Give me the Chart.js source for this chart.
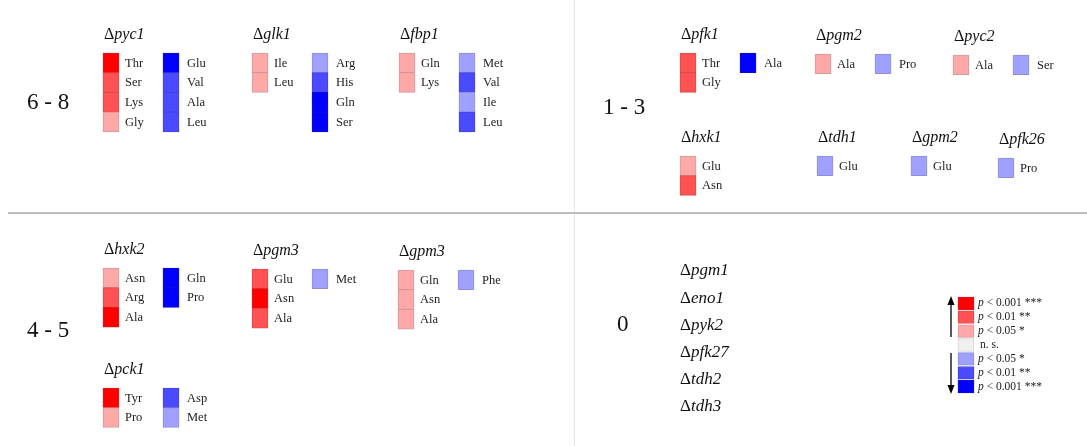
<!DOCTYPE html>
<html>
<head>
<meta charset="utf-8">
<script src="https://cdn.jsdelivr.net/npm/chart.js@4/dist/chart.umd.min.js"></script>
<style>
  html, body { margin: 0; padding: 0; background: #fff; }
  canvas { display: block; }
</style>
</head>
<body>
<canvas id="fig" width="1087" height="446"></canvas>
<script>
// ---- data ----
const groupLabels = ['6 - 8', '1 - 3', '4 - 5', '0'];

const strains = ['pyc1', 'glk1', 'fbp1', 'pfk1', 'pgm2', 'pyc2', 'hxk1', 'tdh1', 'gpm2', 'pfk26', 'hxk2', 'pgm3', 'gpm3', 'pck1'];
const strainGroups = ['6 - 8', '6 - 8', '6 - 8', '1 - 3', '1 - 3', '1 - 3', '1 - 3', '1 - 3', '1 - 3', '1 - 3', '4 - 5', '4 - 5', '4 - 5', '4 - 5'];

// increased amino acids and their significance level (3 = p<0.001, 2 = p<0.01, 1 = p<0.05)
const upAcids = [
  ['Thr', 'Ser', 'Lys', 'Gly'], ['Ile', 'Leu'], ['Gln', 'Lys'],
  ['Thr', 'Gly'], ['Ala'], ['Ala'], ['Glu', 'Asn'], [], [], [],
  ['Asn', 'Arg', 'Ala'], ['Glu', 'Asn', 'Ala'], ['Gln', 'Asn', 'Ala'], ['Tyr', 'Pro']
];
const upLevels = [
  [3, 2, 2, 1], [1, 1], [1, 1],
  [2, 2], [1], [1], [1, 2], [], [], [],
  [1, 2, 3], [2, 3, 2], [1, 1, 1], [3, 1]
];
// decreased amino acids and their significance level
const downAcids = [
  ['Glu', 'Val', 'Ala', 'Leu'], ['Arg', 'His', 'Gln', 'Ser'], ['Met', 'Val', 'Ile', 'Leu'],
  ['Ala'], ['Pro'], ['Ser'], [], ['Glu'], ['Glu'], ['Pro'],
  ['Gln', 'Pro'], ['Met'], ['Phe'], ['Asp', 'Met']
];
const downLevels = [
  [3, 2, 2, 2], [1, 2, 3, 3], [1, 2, 1, 2],
  [3], [1], [1], [], [1], [1], [1],
  [3, 3], [1], [1], [2, 1]
];

const zeroStrains = ['pgm1', 'eno1', 'pyk2', 'pfk27', 'tdh2', 'tdh3'];

const legendLevels = [3, 2, 1, 0, -1, -2, -3];
const legendLabels = ['p < 0.001 ***', 'p < 0.01 **', 'p < 0.05 *', 'n. s.', 'p < 0.05 *', 'p < 0.01 **', 'p < 0.001 ***'];

// ---- layout & styles ----
const W = 1087, H = 446;
const CELL_W = 16, CELL_H = 19.7, COL_GAP = 60;
const SERIF = "'Liberation Serif', 'Times New Roman', serif";

const groupPos = { '6 - 8': [27, 102], '1 - 3': [603, 107], '4 - 5': [27, 330], '0': [617, 324] };
const panelPos = {
  pyc1: [103, 35], glk1: [252, 35], fbp1: [399, 35],
  pfk1: [680, 35], pgm2: [815, 36], pyc2: [953, 37],
  hxk1: [680, 138], tdh1: [817, 138], gpm2: [911, 138], pfk26: [998, 140],
  hxk2: [103, 250], pgm3: [252, 251], gpm3: [398, 252], pck1: [103, 370]
};
const zeroPos = [680, 271, 27.2];
const legendPos = [958, 297, 13.9, 12.6];

const levelColors = {
  3: '#ff0000', 2: '#ff5353', 1: '#ffa8a8', 0: '#f0f0f0',
  '-1': '#a0a0ff', '-2': '#4a4aff', '-3': '#0000ff'
};
const levelBorders = {
  3: '#e01818', 2: '#dc4c4c', 1: '#d49a9a', 0: '#d2d2d2',
  '-1': '#8e8edc', '-2': '#4444d6', '-3': '#0c0cd8'
};

// build cells for the bar dataset
const cells = [];
strains.forEach((s, i) => {
  const [ax, ay] = panelPos[s];
  const top = ay + 18;
  let col = ax;
  if (upAcids[i].length) {
    upAcids[i].forEach((aa, k) => {
      cells.push({ x: col + CELL_W / 2, y: [top + k * CELL_H, top + (k + 1) * CELL_H], level: upLevels[i][k], label: aa, dx: 22 });
    });
    col += COL_GAP;
  }
  downAcids[i].forEach((aa, k) => {
    cells.push({ x: col + CELL_W / 2, y: [top + k * CELL_H, top + (k + 1) * CELL_H], level: -downLevels[i][k], label: aa, dx: 22 + (upAcids[i].length ? 2 : 0) });
  });
});
legendLevels.forEach((lv, k) => {
  const t = legendPos[1] + k * legendPos[2];
  cells.push({ x: legendPos[0] + CELL_W / 2, y: [t, t + legendPos[3]], level: lv, legend: legendLabels[k] });
});

function drawGene(ctx, name, px, py, size) {
  ctx.font = size + 'px ' + SERIF;
  ctx.fillText('\u0394', px, py);
  const w = ctx.measureText('\u0394').width;
  ctx.font = 'italic ' + size + 'px ' + SERIF;
  ctx.fillText(name, px + w, py);
}

function drawArrow(ctx, px, y0, y1) {
  const dir = y1 > y0 ? 1 : -1;
  ctx.beginPath();
  ctx.moveTo(px, y0);
  ctx.lineTo(px, y1 - dir * 6);
  ctx.stroke();
  ctx.beginPath();
  ctx.moveTo(px, y1);
  ctx.lineTo(px - 3.5, y1 - dir * 9);
  ctx.lineTo(px + 3.5, y1 - dir * 9);
  ctx.closePath();
  ctx.fill();
}

const figurePlugin = {
  id: 'figureText',
  beforeDatasetsDraw(chart) {
    const { ctx, scales: { x, y } } = chart;
    ctx.save();
    ctx.strokeStyle = '#e6e6e6';
    ctx.lineWidth = 1;
    ctx.beginPath();
    ctx.moveTo(Math.round(x.getPixelForValue(574)) + 0.5, y.getPixelForValue(0));
    ctx.lineTo(Math.round(x.getPixelForValue(574)) + 0.5, y.getPixelForValue(H));
    ctx.stroke();
    ctx.strokeStyle = '#a8a8a8';
    ctx.lineWidth = 1.3;
    ctx.beginPath();
    ctx.moveTo(x.getPixelForValue(8), y.getPixelForValue(213));
    ctx.lineTo(x.getPixelForValue(W), y.getPixelForValue(213));
    ctx.stroke();
    ctx.restore();
  },
  afterDatasetsDraw(chart) {
    const { ctx, scales: { x, y } } = chart;
    ctx.save();
    ctx.textBaseline = 'middle';
    ctx.textAlign = 'left';
    ctx.fillStyle = '#111';

    // group labels
    ctx.font = '23px ' + SERIF;
    groupLabels.forEach(g => {
      const [gx, gy] = groupPos[g];
      ctx.fillText(g, x.getPixelForValue(gx), y.getPixelForValue(gy + 1));
    });

    // strain titles
    strains.forEach(s => {
      const [ax, ay] = panelPos[s];
      drawGene(ctx, s, x.getPixelForValue(ax + 1), y.getPixelForValue(ay), 16);
    });
    zeroStrains.forEach((s, k) => {
      drawGene(ctx, s, x.getPixelForValue(zeroPos[0]), y.getPixelForValue(zeroPos[1] + k * zeroPos[2]), 17);
    });

    // cell labels
    ctx.fillStyle = '#222';
    cells.forEach(c => {
      const cy = y.getPixelForValue((c.y[0] + c.y[1]) / 2);
      if (c.label) {
        ctx.font = '12.5px ' + SERIF;
        ctx.fillText(c.label, x.getPixelForValue(c.x - CELL_W / 2 + c.dx), cy + 0.5);
      } else if (c.legend) {
        const lx = x.getPixelForValue(c.x + CELL_W / 2 + 4);
        if (c.legend.startsWith('p ')) {
          ctx.font = 'italic 11.5px ' + SERIF;
          ctx.fillText('p', lx, cy);
          const w = ctx.measureText('p').width;
          ctx.font = '11.5px ' + SERIF;
          ctx.fillText(c.legend.slice(1), lx + w, cy);
        } else {
          ctx.font = '11.5px ' + SERIF;
          ctx.fillText(c.legend, lx + 2, cy);
        }
      }
    });

    // legend arrows
    ctx.strokeStyle = '#000';
    ctx.fillStyle = '#000';
    ctx.lineWidth = 1.3;
    const ax = x.getPixelForValue(951);
    drawArrow(ctx, ax, y.getPixelForValue(337), y.getPixelForValue(296));
    drawArrow(ctx, ax, y.getPixelForValue(353), y.getPixelForValue(394));
    ctx.restore();
  }
};

new Chart(document.getElementById('fig'), {
  type: 'bar',
  data: {
    datasets: [{
      label: 'cells',
      data: cells,
      backgroundColor: c => levelColors[c.raw.level],
      borderColor: c => levelBorders[c.raw.level],
      borderWidth: 1,
      borderSkipped: false,
      barThickness: CELL_W
    }]
  },
  options: {
    responsive: false,
    animation: false,
    events: [],
    layout: { padding: 0 },
    plugins: { legend: { display: false }, tooltip: { enabled: false } },
    scales: {
      x: { type: 'linear', min: 0, max: W, offset: false, bounds: 'data', display: false },
      y: { type: 'linear', min: 0, max: H, reverse: true, bounds: 'data', display: false }
    }
  },
  plugins: [figurePlugin]
});
</script>
</body>
</html>
